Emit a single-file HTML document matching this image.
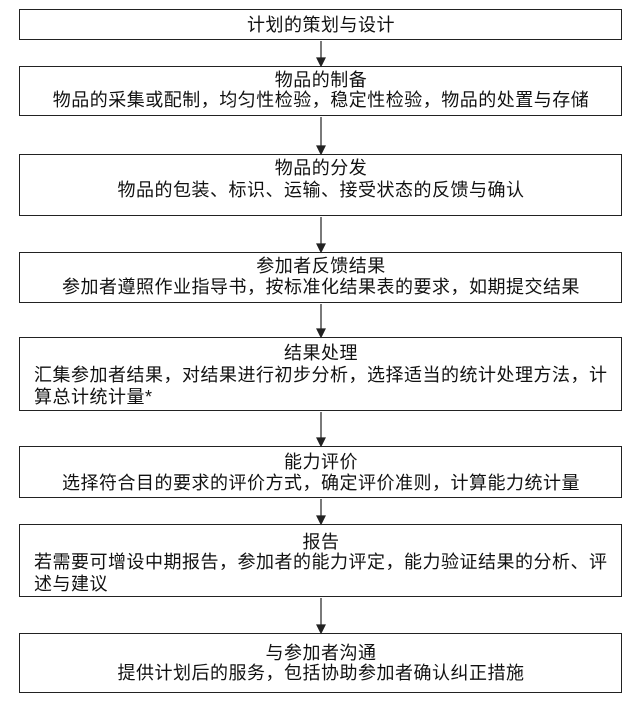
<!DOCTYPE html>
<html><head><meta charset="utf-8"><style>
body{margin:0;background:#fff;width:642px;height:709px;position:relative;overflow:hidden;font-family:"Liberation Sans","Noto Sans CJK SC",sans-serif;font-size:18px;letter-spacing:0.5px;color:#111}
.b{position:absolute;left:19px;width:601px;border:1.5px solid #222;}
.t{position:absolute;left:19px;width:604px;text-align:center;height:22px;line-height:22px;white-space:nowrap}
.l{position:absolute;left:34px;height:22px;line-height:22px;white-space:nowrap}
svg{position:absolute;left:0;top:0}
</style></head><body>
<div class="b" style="top:9px;height:29px"></div>
<div class="b" style="top:66px;height:48px"></div>
<div class="b" style="top:154px;height:60px"></div>
<div class="b" style="top:252px;height:49px"></div>
<div class="b" style="top:337px;height:72px"></div>
<div class="b" style="top:446px;height:50px"></div>
<div class="b" style="top:524px;height:71px"></div>
<div class="b" style="top:633px;height:58px"></div>
<svg width="642" height="709">
<g stroke="#222" stroke-width="1.2" fill="#222">
<line x1="321" y1="41" x2="321" y2="60"/><polygon points="317,58 325,58 321,66"/>
<line x1="321" y1="117" x2="321" y2="148"/><polygon points="317,146 325,146 321,154"/>
<line x1="321" y1="217" x2="321" y2="246"/><polygon points="317,244 325,244 321,252"/>
<line x1="321" y1="304" x2="321" y2="331"/><polygon points="317,329 325,329 321,337"/>
<line x1="321" y1="412" x2="321" y2="440"/><polygon points="317,438 325,438 321,446"/>
<line x1="321" y1="499" x2="321" y2="518"/><polygon points="317,516 325,516 321,524"/>
<line x1="321" y1="598" x2="321" y2="627"/><polygon points="317,625 325,625 321,633"/>
</g></svg>
<div class="t" style="top:14px">计划的策划与设计</div>
<div class="t" style="top:69px">物品的制备</div>
<div class="t" style="top:89px">物品的采集或配制，均匀性检验，稳定性检验，物品的处置与存储</div>
<div class="t" style="top:157px">物品的分发</div>
<div class="t" style="top:179px">物品的包装、标识、运输、接受状态的反馈与确认</div>
<div class="t" style="top:255px">参加者反馈结果</div>
<div class="t" style="top:276px">参加者遵照作业指导书，按标准化结果表的要求，如期提交结果</div>
<div class="t" style="top:342px">结果处理</div>
<div class="l" style="top:364px">汇集参加者结果，对结果进行初步分析，选择适当的统计处理方法，计</div>
<div class="l" style="top:386px">算总计统计量*</div>
<div class="t" style="top:451px">能力评价</div>
<div class="t" style="top:472px">选择符合目的要求的评价方式，确定评价准则，计算能力统计量</div>
<div class="t" style="top:531px">报告</div>
<div class="l" style="top:551px">若需要可增设中期报告，参加者的能力评定，能力验证结果的分析、评</div>
<div class="l" style="top:573px">述与建议</div>
<div class="t" style="top:642px">与参加者沟通</div>
<div class="t" style="top:662px">提供计划后的服务，包括协助参加者确认纠正措施</div>
</body></html>
